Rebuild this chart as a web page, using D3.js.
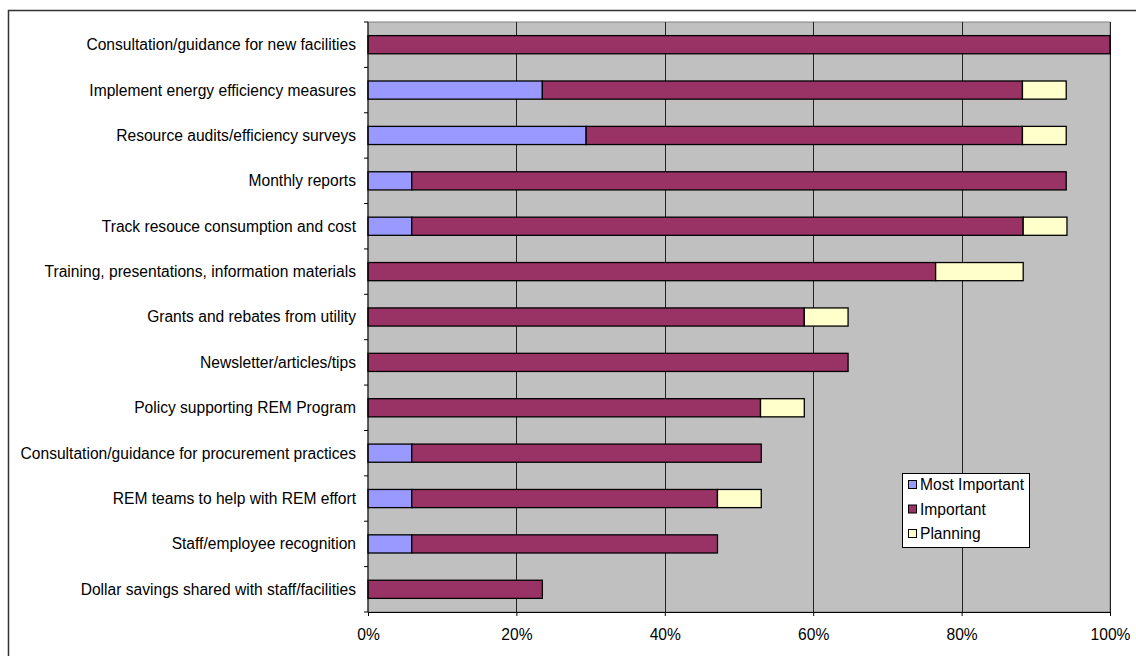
<!DOCTYPE html>
<html><head><meta charset="utf-8">
<script src="https://cdn.jsdelivr.net/npm/d3@7"></script>
<style>body{margin:0;background:#fff}svg{display:block}</style>
</head><body>
<svg id="c" width="1136" height="656"></svg>
<script>
const categories = [
  "Consultation/guidance for new facilities",
  "Implement energy efficiency measures",
  "Resource audits/efficiency surveys",
  "Monthly reports",
  "Track resouce consumption and cost",
  "Training, presentations, information materials",
  "Grants and rebates from utility",
  "Newsletter/articles/tips",
  "Policy supporting REM Program",
  "Consultation/guidance for procurement practices",
  "REM teams to help with REM effort",
  "Staff/employee recognition",
  "Dollar savings shared with staff/facilities"
];
const mostImportant = [0, 23.5, 29.4, 5.9, 5.9, 0, 0, 0, 0, 5.9, 5.9, 5.9, 0];
const important     = [100, 64.7, 58.8, 88.2, 82.4, 76.5, 58.8, 64.7, 52.9, 47.1, 41.2, 41.2, 23.5];
const planning      = [0, 5.9, 5.9, 0, 5.9, 11.8, 5.9, 0, 5.9, 0, 5.9, 0, 0];
const seriesNames = ["Most Important", "Important", "Planning"];
const xTicks = [0, 20, 40, 60, 80, 100];

const colors = ["#9999FF", "#993366", "#FFFFCC"];
const svg = d3.select("#c");
const font = "'Liberation Sans', Arial, sans-serif";
const fs = 15.6;

// outer frame
svg.append("rect").attr("x", 8.5).attr("y", 10.5).attr("width", 1140).attr("height", 660)
  .attr("fill", "#fff").attr("stroke", "#333").attr("stroke-width", 1.5);

const L = 368, R = 1110, T = 22, B = 612;
const x = d3.scaleLinear().domain([0, 100]).range([L, R]);
const y = d3.scaleBand().domain(categories).range([T, B]).paddingInner(0.6).paddingOuter(0.3);

svg.append("rect").attr("x", L).attr("y", T).attr("width", R - L).attr("height", B - T)
  .attr("fill", "#C0C0C0").attr("stroke", "#808080");

// gridlines
svg.append("g").selectAll("line").data(xTicks.slice(1)).join("line")
  .attr("x1", d => Math.round(x(d)) + 0.5).attr("x2", d => Math.round(x(d)) + 0.5)
  .attr("y1", T).attr("y2", B).attr("stroke", "#222").attr("stroke-width", 1);

// stacked data
const rows = categories.map((c, i) => ({cat: c, v: [mostImportant[i], important[i], planning[i]]}));
const stack = d3.stack().keys([0, 1, 2]).value((d, k) => d.v[k]);
const layers = stack(rows);

svg.append("g").selectAll("g").data(layers).join("g")
  .attr("fill", (d, i) => colors[i])
  .selectAll("rect").data(d => d.filter(p => p[1] - p[0] > 0)).join("rect")
  .attr("x", d => x(d[0])).attr("width", d => x(d[1]) - x(d[0]))
  .attr("y", d => y(d.data.cat)).attr("height", y.bandwidth())
  .attr("stroke", "#000").attr("stroke-width", 1.3);

// y axis
const yAxis = svg.append("g").attr("transform", `translate(${L},0)`);
yAxis.append("line").attr("x1", 0).attr("x2", 0).attr("y1", T).attr("y2", B).attr("stroke", "#000");
const step = (B - T) / categories.length;
yAxis.selectAll("line.t").data(d3.range(categories.length + 1)).join("line").attr("class", "t")
  .attr("x1", -4).attr("x2", 0).attr("y1", d => T + d * step).attr("y2", d => T + d * step)
  .attr("stroke", "#000");
yAxis.selectAll("text").data(categories).join("text")
  .attr("x", -12).attr("y", d => y(d) + y.bandwidth() / 2).attr("dy", "0.35em")
  .attr("text-anchor", "end").attr("font-family", font).attr("font-size", fs).attr("fill", "#000")
  .text(d => d);

// x axis
const xAxis = d3.axisBottom(x).tickValues(xTicks).tickFormat(d => d + "%").tickSize(4).tickPadding(13);
const gx = svg.append("g").attr("transform", `translate(0,${B})`).call(xAxis);
gx.select(".domain").attr("stroke", "#000").attr("d", `M${L},0.5H${R}`);
gx.selectAll(".tick line").attr("stroke", "#000");
gx.selectAll("text").attr("font-family", font).attr("font-size", fs).attr("fill", "#000");

// legend
const lg = svg.append("g").attr("transform", "translate(902,473)");
lg.append("rect").attr("x", 0.5).attr("y", 0.5).attr("width", 127).attr("height", 74)
  .attr("fill", "#fff").attr("stroke", "#000");
seriesNames.forEach((n, i) => {
  const yy = 12 + i * 24.5;
  lg.append("rect").attr("x", 6.5).attr("y", yy - 4.5).attr("width", 8).attr("height", 8)
    .attr("fill", colors[i]).attr("stroke", "#000");
  lg.append("text").attr("x", 18).attr("y", yy).attr("dy", "0.35em")
    .attr("font-family", font).attr("font-size", fs).attr("fill", "#000").text(n);
});
</script>
</body></html>
